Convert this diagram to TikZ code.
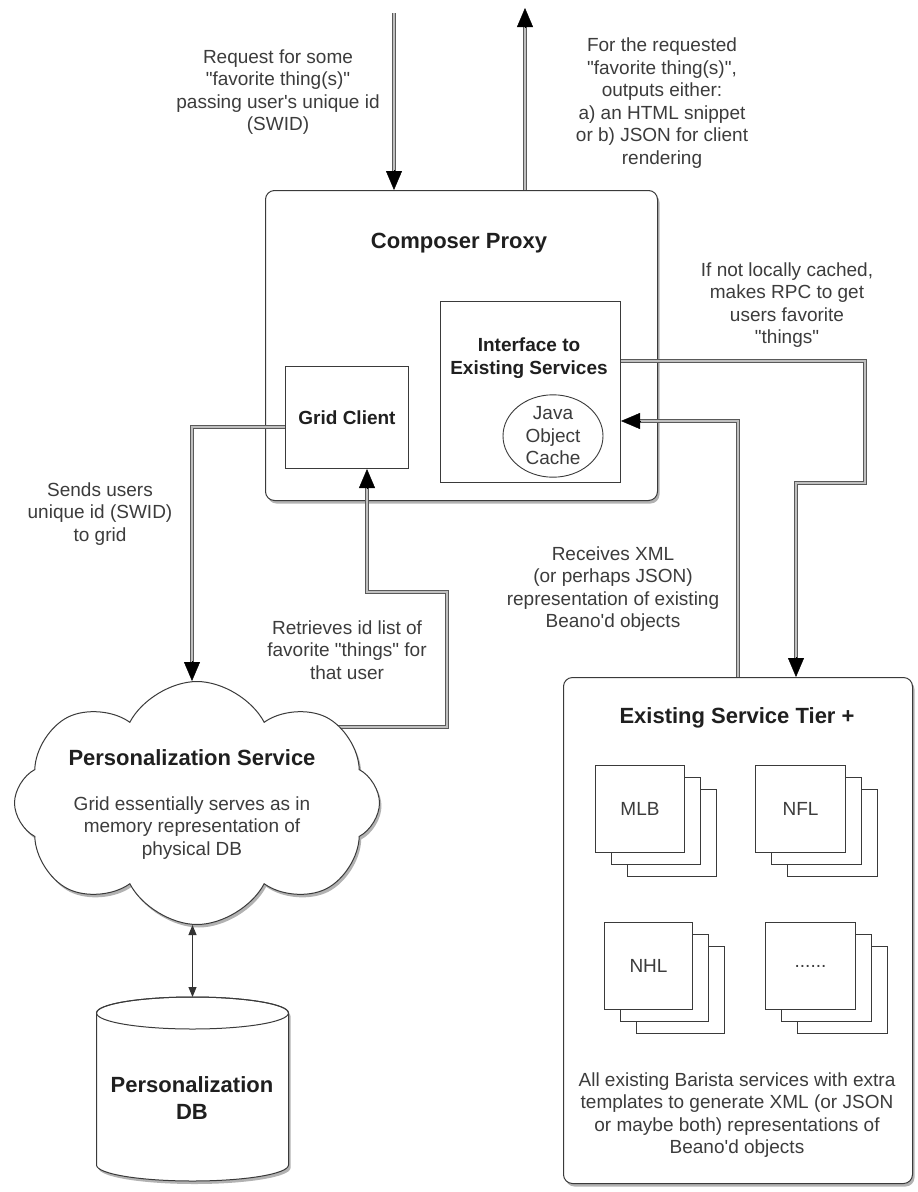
\documentclass[tikz,border=0pt]{standalone}
\usepackage{fontspec}
\setmainfont{Liberation Sans}[Ligatures=TeXOff]
\usetikzlibrary{arrows.meta,shapes.symbols,shapes.geometric,shadows,calc}
\pgfdeclarelayer{background}
\pgfsetlayers{background,main}
\definecolor{txt}{HTML}{3C3C3C}
\definecolor{ln}{HTML}{3A3A3A}
\tikzset{
  lbl/.style={text=txt, font=\fontsize{19}{22.5}\selectfont, align=center, inner sep=0pt},
  ttl/.style={text=black!88, font=\bfseries\fontsize{22}{27}\selectfont, align=center, inner sep=0pt},
  btl/.style={text=black!88, font=\bfseries\fontsize{19}{22.5}\selectfont, align=center, inner sep=0pt},
  box/.style={draw=ln, line width=1pt, fill=white},
  shd/.style={drop shadow={shadow xshift=2pt, shadow yshift=-3pt, opacity=0.3, fill=black}},
  conn/.style={draw=black!65, line width=0.9pt, double=black!25, double distance=2.4pt},
  tipst/.style={-{Triangle[length=19pt,width=16pt]}, line width=0.4pt, black},
  small/.style={{Triangle[length=10pt,width=8pt]}-{Triangle[length=10pt,width=8pt]}, line width=0.9pt, black!80},
}
\newcommand\svcstack[6]{%
  \node[box, minimum width=#3, minimum height=#4, anchor=north west] at (#1+32,#2+24) {};
  \node[box, minimum width=#3, minimum height=#4, anchor=north west] at (#1+16,#2+12) {};
  \node[box, minimum width=#3, minimum height=#4, anchor=north west, lbl] (#6) at (#1,#2) {#5};
}
\begin{document}
\begin{tikzpicture}[x=1pt,y=-1pt]
\useasboundingbox (0,0) rectangle (918,1192);
\begin{pgfonlayer}{background}
\fill[white] (0,0) rectangle (918,1192);
\end{pgfonlayer}

% ---------- Composer Proxy ----------
\node[box, shd, rounded corners=9pt, minimum width=392, minimum height=310, anchor=north west] (cp) at (265,190) {};
\node[ttl] (cpt) at (459,243) {Composer Proxy};
\node[box, minimum width=180, minimum height=181, anchor=north west] (if) at (440,301) {};
\node[btl] (ift) at (529,358) {Interface to\\Existing Services};
\node[draw=ln, line width=0.9pt, ellipse, minimum width=100, minimum height=78, inner sep=0pt, lbl] (joc) at (553,436) {Java\\Object\\Cache};
\node[box, minimum width=123, minimum height=102, anchor=north west, btl] (gc) at (285,366) {Grid Client};

% ---------- Personalization Service cloud ----------
\node[cloud, cloud puffs=8, cloud puff arc=125, cloud ignores aspect, draw=ln, line width=1pt, fill=white, shd,
      minimum width=365, minimum height=243, inner sep=0pt] (ps) at (197,803) {};
\node[ttl] (pst) at (192,758) {Personalization Service};
\node[lbl] (psb) at (192,828) {Grid essentially serves as in\\memory representation of\\physical DB};

% ---------- Personalization DB cylinder ----------
\path[fill=white, draw=ln, line width=1pt, shd]
  (96.5,1013) -- (96.5,1165) arc[start angle=180, end angle=0, x radius=96, y radius=16]
  -- (288.5,1013) arc[start angle=360, end angle=180, x radius=96, y radius=16] -- cycle;
\draw[ln, line width=1pt] (192.5,1013) ellipse[x radius=96, y radius=16];
\node[ttl] (db) at (192,1098) {Personalization\\DB};
\coordinate (dbtop) at (192.5,997);

% ---------- Existing Service Tier ----------
\node[box, shd, rounded corners=9pt, minimum width=349, minimum height=506, anchor=north west] (st) at (563,677) {};
\node[ttl] (stt) at (737,718) {Existing Service Tier +};
\svcstack{595}{765}{89}{87}{MLB}{mlb}
\svcstack{755}{765}{90}{87}{NFL}{nfl}
\svcstack{604}{922}{88}{87}{NHL}{nhl}
\svcstack{765}{922}{90}{87}{......}{etc}
\node[lbl] (stb) at (737,1115) {All existing Barista services with extra\\templates to generate XML (or JSON\\or maybe both) representations of\\Beano'd objects};

% ---------- labels ----------
\node[lbl] (lreq) at (278,92) {Request for some\\"favorite thing(s)"\\passing user's unique id\\(SWID)};
\node[lbl] (lout) at (662,103) {For the requested\\"favorite thing(s)",\\outputs either:\\a) an HTML snippet\\or b) JSON for client\\rendering};
\node[lbl] (lrpc) at (787,305) {If not locally cached,\\makes RPC to get\\users favorite\\"things"};
\node[lbl] (lsend) at (100,514) {Sends users\\unique id (SWID)\\to grid};
\node[lbl] (lrecv) at (613,589) {Receives XML\\(or perhaps JSON)\\representation of existing\\Beano'd objects};
\node[lbl] (lret) at (347,650) {Retrieves id list of\\favorite "things" for\\that user};

% ---------- coordinates ----------
\coordinate (inS) at (394,13);
\coordinate (outE) at (525,8);
\coordinate (g1) at (192,427);
\coordinate (psr) at (330,727);
\coordinate (r0) at (400,727);
\coordinate (r1) at (447,727);
\coordinate (r2) at (447,592);
\coordinate (r3) at (367,592);
\coordinate (i1) at (865,361);
\coordinate (i2) at (865,483);
\coordinate (i3) at (796,483);
\coordinate (t1) at (738,421);

% ---------- connectors ----------
% incoming request
\draw[conn] (inS) -- ($(inS |- cp.north)+(0,-16)$);
\draw[tipst] ($(inS |- cp.north)+(0,-20)$) -- (inS |- cp.north);
% outgoing result
\draw[conn] (outE |- cp.north) -- ($(outE)+(0,16)$);
\draw[tipst] ($(outE)+(0,20)$) -- (outE);
% grid client -> personalization service
\draw[conn] (gc.west |- g1) -- (g1) -- ($(g1 |- ps.north)+(0,-16)$);
\draw[tipst] ($(g1 |- ps.north)+(0,-20)$) -- (g1 |- ps.north);
% personalization service -> grid client (its start is hidden under the cloud)
\begin{pgfonlayer}{background}
\draw[conn] (psr) -- (r0);
\end{pgfonlayer}
\draw[conn] (r0) -- (r1) -- (r2) -- (r3) -- ($(r3 |- gc.south)+(0,16)$);
\draw[tipst] ($(r3 |- gc.south)+(0,20)$) -- (r3 |- gc.south);
% interface -> service tier
\draw[conn] (if.east |- i1) -- (i1) -- (i2) -- (i3) -- ($(i3 |- st.north)+(0,-16)$);
\draw[tipst] ($(i3 |- st.north)+(0,-20)$) -- (i3 |- st.north);
% service tier -> interface
\draw[conn] (t1 |- st.north) -- (t1) -- ($(if.east |- t1)+(16,0)$);
\draw[tipst] ($(if.east |- t1)+(20,0)$) -- (if.east |- t1);
% cloud <-> DB
\draw[small] (ps.south -| dbtop) -- (dbtop);
\end{tikzpicture}
\end{document}
